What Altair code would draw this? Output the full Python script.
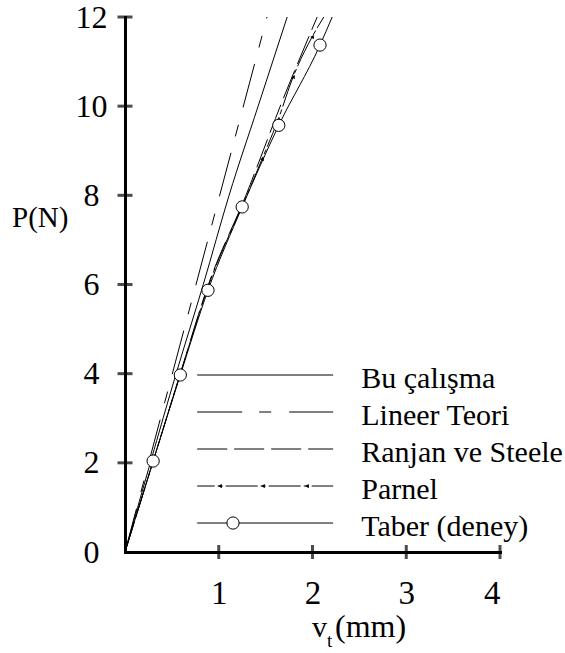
import altair as alt
import pandas as pd

# ---------------- data ----------------
x_ticks = [1, 2, 3, 4]
y_ticks = [0, 2, 4, 6, 8, 10, 12]

lineer_x = [0, 1.515]
lineer_p = [0, 12]

bu_x = [0, 0.27, 0.545, 0.835, 1.11, 1.42, 1.73]
bu_p = [0, 2, 4, 6, 8, 10, 12]

ranjan_x = [0, 0.295, 0.59, 0.89, 1.29, 1.675, 2.05]
ranjan_p = [0, 2, 4, 6, 8, 10.1, 12]

parnel_x = [0, 0.295, 0.59, 0.895, 1.30, 1.461, 1.632, 1.792, 1.995, 2.12]
parnel_p = [0, 2, 4, 6, 8, 8.81, 9.69, 10.65, 11.55, 12]
parnel_mark_x = [1.461, 1.632, 1.792, 1.995]
parnel_mark_p = [8.81, 9.69, 10.65, 11.55]

taber_line_x = [0, 0.30, 0.59, 0.885, 1.25, 1.64, 2.08, 2.21]
taber_line_p = [0, 2.04, 3.97, 5.87, 7.74, 9.57, 11.37, 12]
taber_x = [0.30, 0.59, 0.885, 1.25, 1.64, 2.08]
taber_p = [2.04, 3.97, 5.87, 7.74, 9.57, 11.37]

legend_labels = ["Bu çalışma", "Lineer Teori", "Ranjan ve Steele", "Parnel", "Taber (deney)"]

# ---------------- layout / style ----------------
SERIF = "Liberation Serif, Times New Roman, Times, serif"
LEG_ROWS = [3.97, 3.14, 2.31, 1.48, 0.65]
LEG_X0, LEG_X1, LEG_TX = 0.77, 2.22, 2.52
LEG_PARNEL_MARKS = [1.013, 1.472, 1.941]
LEG_TABER_CIRCLE = 1.152

DASH_LINEER = [45, 17, 12, 18]
DASH_RANJAN = [30, 7]
DASH_PARNEL = [32, 3, 5, 3]

xscale = alt.Scale(domain=[0, 4], nice=False, zero=False)
yscale = alt.Scale(domain=[0, 12], nice=False, zero=False)

X = lambda **kw: alt.X("x:Q", scale=xscale, **kw)
Y = lambda **kw: alt.Y("p:Q", scale=yscale, **kw)

x_axis = alt.Axis(values=x_ticks, title=None, grid=False, ticks=False, tickSize=0,
                  domainWidth=3, domainColor="black", domainCap="square",
                  labelFont=SERIF, labelFontSize=33, labelColor="black",
                  labelPadding=25, format="d")
y_axis = alt.Axis(values=y_ticks, title=None, grid=False, ticks=False, tickSize=0,
                  domainWidth=3, domainColor="black", domainCap="square",
                  labelFont=SERIF, labelFontSize=32, labelColor="black",
                  labelAlign="center", labelBaseline="middle", labelBound=False,
                  labelPadding=34, format="d")


def XY(chart):
    return chart.encode(x=X(axis=x_axis, title=None), y=Y(axis=y_axis, title=None))


def line_layer(xs, ps, dash=None, interp="monotone"):
    kw = dict(color="black", strokeWidth=1, interpolate=interp)
    if dash:
        kw["strokeDash"] = dash
    return XY(alt.Chart(pd.DataFrame({"x": xs, "p": ps})).mark_line(**kw)).encode(order="p:Q")


# crossing tick marks
xtick = XY(alt.Chart(pd.DataFrame({"x": x_ticks, "p": [0] * len(x_ticks)})).mark_tick(
    orient="vertical", color="black", thickness=3, size=14))
ytick = XY(alt.Chart(pd.DataFrame({"x": [0] * (len(y_ticks) - 1), "p": y_ticks[1:]})).mark_tick(
    orient="horizontal", color="black", thickness=3, size=15))

lineer = line_layer(lineer_x, lineer_p, DASH_LINEER, interp="linear")
bu = line_layer(bu_x, bu_p)
ranjan = line_layer(ranjan_x, ranjan_p, DASH_RANJAN)
parnel = line_layer(parnel_x, parnel_p, DASH_PARNEL)
taber_line = line_layer(taber_line_x, taber_line_p)

parnel_marks = XY(alt.Chart(pd.DataFrame({"x": parnel_mark_x, "p": parnel_mark_p})).mark_point(
    shape="triangle-left", filled=True, color="black", size=18, opacity=1))

taber_pts = XY(alt.Chart(pd.DataFrame({"x": taber_x, "p": taber_p})).mark_point(
    shape="circle", filled=True, fill="white", stroke="black", strokeWidth=1, size=150,
    opacity=1))

# ---------------- legend ----------------
dashes = [None, DASH_LINEER, DASH_RANJAN, DASH_PARNEL, None]
leg_layers = []
for lab, row, d in zip(legend_labels, LEG_ROWS, dashes):
    kw = dict(color="black", strokeWidth=1)
    if d:
        kw["strokeDash"] = d
    if lab == "Parnel":
        kw["strokeDashOffset"] = 14.5
    leg_layers.append(
        XY(alt.Chart(pd.DataFrame({"x": [LEG_X0], "x2": [LEG_X1], "p": [row]})).mark_rule(**kw)).encode(
            x2="x2:Q"))

leg_parnel = XY(alt.Chart(pd.DataFrame({"x": LEG_PARNEL_MARKS, "p": [LEG_ROWS[3]] * 3})).mark_point(
    shape="triangle-left", filled=True, color="black", size=18, opacity=1))
leg_taber = XY(alt.Chart(pd.DataFrame({"x": [LEG_TABER_CIRCLE], "p": [LEG_ROWS[4]]})).mark_point(
    shape="circle", filled=True, fill="white", stroke="black", strokeWidth=1, size=150,
    opacity=1))

leg_text = XY(alt.Chart(pd.DataFrame({"x": [LEG_TX] * 5, "p": LEG_ROWS, "t": legend_labels})).mark_text(
    align="left", baseline="alphabetic", dy=13, font=SERIF, fontSize=30, color="black")).encode(
    text="t:N")


# ---------------- axis titles ----------------
def title_text(txt, px, py, size, align="left"):
    return alt.Chart(pd.DataFrame({"t": [txt]})).mark_text(
        align=align, baseline="alphabetic", font=SERIF, fontSize=size, color="black").encode(
        x=alt.value(px), y=alt.value(py), text="t:N")


ytitle = title_text("P(N)", -113, 210, 29)
xt_v = title_text("v", 187, 620, 30)
xt_t = title_text("t", 202, 630, 19)
xt_mm = title_text("(mm)", 210, 620, 32)

chart = alt.layer(
    lineer, bu, ranjan, parnel, taber_line, parnel_marks, taber_pts,
    *leg_layers, leg_parnel, leg_taber, leg_text,
    xtick, ytick, ytitle, xt_v, xt_t, xt_mm,
).properties(
    width=375, height=535,
    autosize=alt.AutoSizeParams(type="none"),
    padding={"left": 125, "top": 17, "right": 65, "bottom": 101},
    background="white",
).configure_view(stroke=None)

chart.save("out.html", embed_options={"renderer": "svg", "actions": False})
